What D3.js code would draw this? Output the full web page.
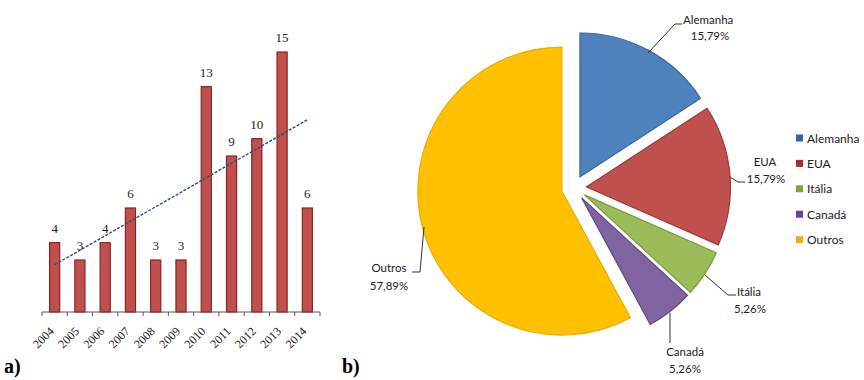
<!DOCTYPE html>
<html>
<head>
<meta charset="utf-8">
<script src="https://cdn.jsdelivr.net/npm/d3@7"></script>
<style>
  body { margin: 0; background: #fff; }
  svg { display: block; }
</style>
</head>
<body>
<div id="chart"></div>
<script>
// Data
const years = ["2004", "2005", "2006", "2007", "2008", "2009", "2010", "2011", "2012", "2013", "2014"];
const counts = [4, 3, 4, 6, 3, 3, 13, 9, 10, 15, 6];

const countries = ["Alemanha", "EUA", "Itália", "Canadá", "Outros"];
const shares = [15.79, 15.79, 5.26, 5.26, 57.89];
const shareLabels = ["15,79%", "15,79%", "5,26%", "5,26%", "57,89%"];
const pieColors = ["#4F81BD", "#C0504D", "#9BBB59", "#8064A2", "#FFC000"];
const pieStrokes = ["#3A679E", "#9B3936", "#7C9A42", "#604A80", "#E6AC00"];
const legendColors = ["#2F63A8", "#B02A2A", "#7FA53C", "#6A3F96", "#F2B000"];

const width = 864, height = 380;

const svg = d3.select("#chart")
    .append("svg")
    .attr("width", width)
    .attr("height", height);

// ---------- a) bar chart ----------
const baseY = 312;
const x = d3.scaleBand()
    .domain(years)
    .range([42, 320])
    .paddingInner(0.6)
    .paddingOuter(0.3);

const y = d3.scaleLinear()
    .domain([0, 15])
    .range([baseY, 52]);

const serif = "'Liberation Serif', 'DejaVu Serif', serif";

svg.append("g")
    .selectAll("rect")
    .data(counts)
    .join("rect")
    .attr("x", (d, i) => x(years[i]))
    .attr("y", d => y(d))
    .attr("width", x.bandwidth())
    .attr("height", d => baseY - y(d))
    .attr("fill", "#C0504D")
    .attr("stroke", "#8C2222")
    .attr("stroke-width", 1.2);

// value labels
svg.append("g")
    .selectAll("text")
    .data(counts)
    .join("text")
    .attr("x", (d, i) => x(years[i]) + x.bandwidth() / 2)
    .attr("y", d => y(d) - 10)
    .attr("text-anchor", "middle")
    .style("font-family", serif)
    .style("font-size", "13px")
    .attr("fill", "#222")
    .text(d => d);

// x axis line with ticks between categories
const axisG = svg.append("g");
axisG.append("line")
    .attr("x1", 42).attr("x2", 320)
    .attr("y1", baseY).attr("y2", baseY)
    .attr("stroke", "#555").attr("stroke-width", 1);
const boundaries = d3.range(years.length + 1).map(i => 42 + i * (278 / years.length));
axisG.selectAll(".tick")
    .data(boundaries)
    .join("line")
    .attr("class", "tick")
    .attr("x1", d => d).attr("x2", d => d)
    .attr("y1", baseY).attr("y2", baseY + 4)
    .attr("stroke", "#555");

// year labels, rotated
svg.append("g")
    .selectAll("text")
    .data(years)
    .join("text")
    .attr("transform", d => `translate(${x(d) + x.bandwidth() / 2},${baseY + 20}) rotate(-45)`)
    .attr("text-anchor", "end")
    .style("font-family", serif)
    .style("font-size", "12px")
    .attr("fill", "#222")
    .text(d => d);

// linear trend line
const xs = d3.range(counts.length);
const mx = d3.mean(xs), my = d3.mean(counts);
const slope = d3.sum(xs, i => (i - mx) * (counts[i] - my)) / d3.sum(xs, i => (i - mx) ** 2);
const icpt = my - slope * mx;
const trend = [0, counts.length - 1].map(i => [x(years[i]) + x.bandwidth() / 2, y(icpt + slope * i)]);
svg.append("path")
    .attr("d", d3.line()(trend))
    .attr("fill", "none")
    .attr("stroke", "#2B4C8C")
    .attr("stroke-width", 1.4)
    .attr("stroke-dasharray", "3,1.5");

svg.append("text")
    .attr("x", 4).attr("y", 373)
    .style("font-family", serif)
    .style("font-size", "20px")
    .style("font-weight", "bold")
    .text("a)");

// ---------- b) pie chart ----------
const cx = 574, cy = 188, r = 144, explode = 12.5;
const pie = d3.pie().sort(null).value(d => d)(shares);
const arc = d3.arc().innerRadius(0).outerRadius(r);

const pieG = svg.append("g").attr("transform", `translate(${cx},${cy})`);
pieG.selectAll("path")
    .data(pie)
    .join("path")
    .attr("transform", d => {
        const a = (d.startAngle + d.endAngle) / 2;
        return `translate(${Math.sin(a) * explode},${-Math.cos(a) * explode})`;
    })
    .attr("d", arc)
    .attr("fill", (d, i) => pieColors[i])
    .attr("stroke", (d, i) => pieStrokes[i])
    .attr("stroke-width", 1.2);

// data labels with leader lines
const sans = "Lato, 'Open Sans', sans-serif";
const labelPos = [
    { name: [683, 24, "start"], pct: [710, 40], line: [[648, 53], [675, 24], [682, 24]] },
    { name: [765, 166, "middle"], pct: [766, 183], line: [[730, 177], [738, 182], [745, 182]] },
    { name: [749, 296, "middle"], pct: [750, 313], line: [[705, 275], [728, 295], [736, 295]] },
    { name: [685, 356, "middle"], pct: [685, 373], line: [[670, 313], [670, 343]] },
    { name: [389, 272, "middle"], pct: [389, 290], line: [[424, 227], [420, 272], [412, 272]] }
];
const labelsG = svg.append("g");
labelPos.forEach((p, i) => {
    labelsG.append("path")
        .attr("d", d3.line()(p.line))
        .attr("fill", "none")
        .attr("stroke", "#333")
        .attr("stroke-width", 1);
    labelsG.append("text")
        .attr("x", p.name[0]).attr("y", p.name[1])
        .attr("text-anchor", p.name[2])
        .style("font-family", sans)
        .style("font-size", "11.5px")
        .attr("fill", "#222")
        .text(countries[i]);
    labelsG.append("text")
        .attr("x", p.pct[0]).attr("y", p.pct[1])
        .attr("text-anchor", "middle")
        .style("font-family", sans)
        .style("font-size", "11.5px")
        .attr("fill", "#222")
        .text(shareLabels[i]);
});

// legend
const legend = svg.append("g").attr("transform", "translate(796,138)");
countries.forEach((c, i) => {
    const row = legend.append("g").attr("transform", `translate(0,${i * 25.4})`);
    row.append("rect")
        .attr("x", 0).attr("y", -3.5)
        .attr("width", 7).attr("height", 7)
        .attr("fill", legendColors[i]);
    row.append("text")
        .attr("x", 11).attr("y", 4.5)
        .style("font-family", sans)
        .style("font-size", "12px")
        .attr("fill", "#222")
        .text(c);
});

svg.append("text")
    .attr("x", 342).attr("y", 373)
    .style("font-family", serif)
    .style("font-size", "20px")
    .style("font-weight", "bold")
    .text("b)");
</script>
</body>
</html>
